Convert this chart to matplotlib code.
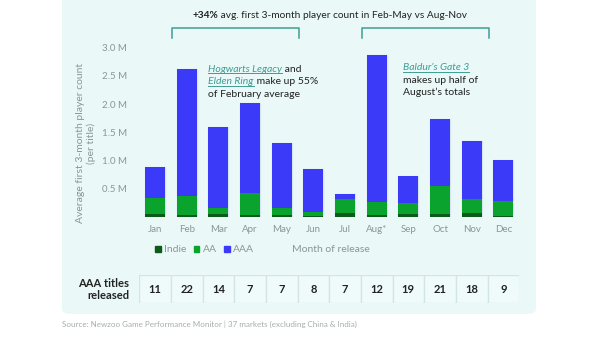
import matplotlib
matplotlib.use("Agg")
import matplotlib.pyplot as plt
from matplotlib.patches import FancyBboxPatch, Rectangle
from matplotlib.lines import Line2D
import numpy as np

months = ["Jan", "Feb", "Mar", "Apr", "May", "Jun", "Jul", "Aug*", "Sep", "Oct", "Nov", "Dec"]
indie = [0.05, 0.03, 0.05, 0.035, 0.03, 0.02, 0.06, 0.035, 0.05, 0.04, 0.06, 0.02]
aa = [0.29, 0.34, 0.10, 0.38, 0.12, 0.06, 0.25, 0.23, 0.19, 0.50, 0.25, 0.25]
aaa = [0.55, 2.25, 1.45, 1.60, 1.15, 0.76, 0.09, 2.61, 0.48, 1.20, 1.03, 0.73]
aaa_titles = [11, 22, 14, 7, 7, 8, 7, 12, 19, 21, 18, 9]
yticks = [0.5, 1.0, 1.5, 2.0, 2.5, 3.0]

FONT = "Lato"
plt.rcParams["font.family"] = [FONT, "DejaVu Sans"]

C_AAA = "#3A3AF8"
C_AA = "#0AA32D"
C_INDIE = "#0B5C19"
BG = "#EAF8F8"
TEAL = "#3E9E94"
GRAY = "#8C9696"
DARK = "#222222"
EDGE = "#D8E6F4"

W, H = 600, 337
fig = plt.figure(figsize=(6, 3.37), dpi=100)


def px(x, y):
    return x / W, 1 - y / H


# panel
fig.patches.append(FancyBboxPatch(px(62, 314), (536 - 62) / W, (314 + 20) / H,
                                  boxstyle="round,pad=0,rounding_size=0.015",
                                  transform=fig.transFigure, facecolor=BG,
                                  edgecolor="none", zorder=-10))

# main axes
x0, x1 = 139.2, 519.2
y_zero, y_top = 216.7, 47.7
ax = fig.add_axes([x0 / W, 1 - y_zero / H, (x1 - x0) / W, (y_zero - y_top) / H])
ax.set_facecolor("none")
xs = np.arange(len(months))
bw = 0.63
bot2 = np.array(indie) + np.array(aa)
tot = bot2 + np.array(aaa)
# light outline around each stacked column
ax.bar(xs, tot, bw, color="none", edgecolor=EDGE, linewidth=1.0, zorder=2)
ax.bar(xs, indie, bw, color=C_INDIE, label="Indie", zorder=3)
ax.bar(xs, aa, bw, bottom=indie, color=C_AA, label="AA", zorder=3)
ax.bar(xs, aaa, bw, bottom=bot2, color=C_AAA, label="AAA", zorder=3)
ax.set_xlim(-0.5, 11.5)
ax.set_ylim(0, 3.0)
ax.set_yticks(yticks)
ax.set_yticklabels([f"{v:.1f} M" for v in yticks])
ax.set_xticks(xs)
ax.set_xticklabels(months)
ax.tick_params(axis="both", length=0, colors=GRAY, labelsize=7)
ax.tick_params(axis="y", pad=9)
ax.tick_params(axis="x", pad=6)
for s in ax.spines.values():
    s.set_visible(False)

fig.text(*px(80.5, 143), "Average first 3-month player count", rotation=90,
         ha="center", va="center", color=GRAY, fontsize=7.5)
fig.text(*px(91.5, 143), "(per title)", rotation=90,
         ha="center", va="center", color=GRAY, fontsize=7.5)

# legend
leg = fig.legend(handles=[Rectangle((0, 0), 1, 1, color=C_INDIE),
                          Rectangle((0, 0), 1, 1, color=C_AA),
                          Rectangle((0, 0), 1, 1, color=C_AAA)],
                 labels=["Indie", "AA", "AAA"], loc="center left",
                 bbox_to_anchor=px(150, 250), ncol=3, frameon=False,
                 fontsize=7.5, handlelength=0.55, handleheight=0.55,
                 handletextpad=0.3, columnspacing=0.7, borderpad=0)
for t in leg.get_texts():
    t.set_color(GRAY)
fig.text(*px(331, 250), "Month of release", ha="center", va="center",
         color=GRAY, fontsize=7.5)

# table axes
tax = fig.add_axes([x0 / W, 1 - 303.3 / H, (x1 - x0) / W, (303.3 - 275) / H])
tax.set_xlim(-0.5, 11.5)
tax.set_ylim(0, 1)
tax.axis("off")
for i, n in enumerate(aaa_titles):
    tax.add_patch(Rectangle((i - 0.5, 0), 1, 1, facecolor="#EFFAFA",
                            edgecolor="#D2E4E4", linewidth=0.9))
    tax.text(i, 0.5, str(n), ha="center", va="center", fontsize=8,
             fontweight="bold", color=DARK)
fig.text(*px(129, 289.5), "AAA titles\nreleased", ha="right", va="center",
         fontsize=8, fontweight="bold", color=DARK, linespacing=1.1)

# source
fig.text(*px(62, 324), "Source: Newzoo Game Performance Monitor | 37 markets (excluding China & India)",
         ha="left", va="center", fontsize=5.8, color="#A5ADAD")

# brackets
for a, b in [(0.55, 4.55), (6.53, 10.54)]:
    ax.plot([a, a, b, b], [3.18, 3.35, 3.35, 3.18], color=TEAL, lw=1.1,
            clip_on=False, solid_joinstyle="round", transform=ax.transData)

fig.canvas.draw()
renderer = fig.canvas.get_renderer()


def rich_line(x, y, parts, fontsize):
    cx = x
    for txt, st in parts:
        t = fig.text(cx / W, 1 - y / H, txt, ha="left", va="center",
                     fontsize=fontsize, color=st.get("color", DARK),
                     fontweight=st.get("weight", "normal"),
                     fontstyle=st.get("style", "normal"))
        bb = t.get_window_extent(renderer)
        if st.get("underline"):
            fig.add_artist(Line2D([bb.x0 / W, bb.x1 / W],
                                  [(bb.y0 + 0.5) / H, (bb.y0 + 0.5) / H],
                                  color=st.get("color", DARK), lw=0.7,
                                  transform=fig.transFigure))
        cx = bb.x1


link = dict(color=TEAL, style="italic", underline=True)
norm = dict()
rich_line(192.7, 16, [("+34%", dict(weight="bold")),
                      (" avg. first 3-month player count in Feb-May vs Aug-Nov", norm)], 7.3)
rich_line(208.3, 69, [("Hogwarts Legacy", link), (" and", norm)], 7.5)
rich_line(208.3, 81.5, [("Elden Ring", link), (" make up 55%", norm)], 7.5)
rich_line(208.3, 94, [("of February average", norm)], 7.5)
rich_line(402.7, 68, [("Baldur\u2019s Gate 3", link)], 7.5)
rich_line(402.7, 80.5, [("makes up half of", norm)], 7.5)
rich_line(402.7, 92.5, [("August\u2019s totals", norm)], 7.5)

fig.savefig("out.png", dpi=100)
